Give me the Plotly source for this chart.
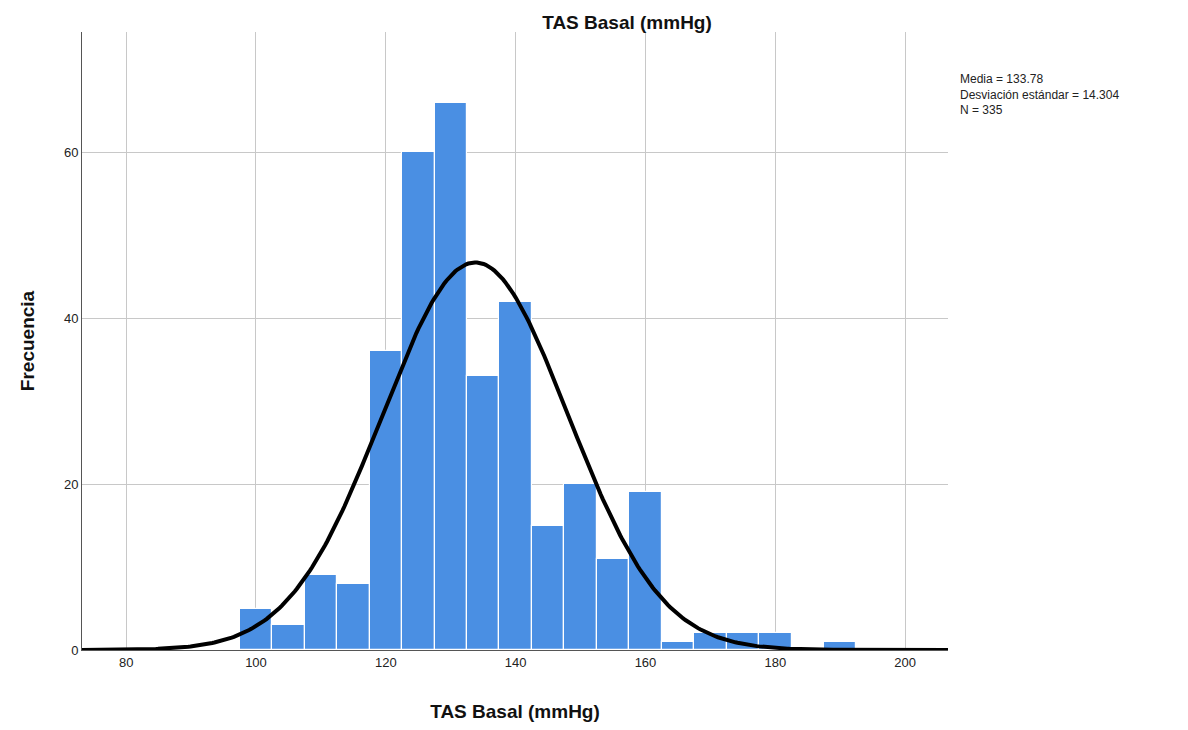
import numpy as np
import plotly.graph_objects as go

bin_centers = [100, 105, 110, 115, 120, 125, 130, 135, 140, 145, 150, 155, 160, 165, 170, 175, 180, 185, 190]
frequencies = [5, 3, 9, 8, 36, 60, 66, 33, 42, 15, 20, 11, 19, 1, 2, 2, 2, 0, 1]
bin_width = 5
mean_val = 133.78
sd_val = 14.304
n_val = 335
x_ticks = [80, 100, 120, 140, 160, 180, 200]
y_ticks = [0, 20, 40, 60]

xs = np.linspace(73.2, 206.6, 400)
ys = n_val * bin_width * np.exp(-0.5 * ((xs - mean_val) / sd_val) ** 2) / (sd_val * np.sqrt(2 * np.pi))

fig = go.Figure()
fig.add_trace(go.Bar(
    x=bin_centers, y=frequencies, width=bin_width,
    marker=dict(color="#4a8fe3", line=dict(color="white", width=1.2)),
    showlegend=False, hoverinfo="x+y"))
fig.add_trace(go.Scatter(
    x=xs, y=ys, mode="lines", line=dict(color="black", width=4),
    showlegend=False, hoverinfo="skip"))

font = "Liberation Sans, Arial, sans-serif"
W, H = 1180, 722
L, R, T, B = 74, 240, 24, 80
fig.update_layout(
    width=W, height=H,
    margin=dict(l=L, r=R, t=T, b=B),
    plot_bgcolor="white", paper_bgcolor="white",
    font=dict(family=font, size=13, color="#222"),
    bargap=0,
    title=dict(text="<b>TAS Basal (mmHg)</b>", x=619/W, xanchor="center",
               y=1 - 14/H, yanchor="middle", font=dict(size=19, color="#111")),
    xaxis=dict(range=[73.2, 206.6], tickvals=x_ticks, showgrid=True,
               gridcolor="#c8c8c8", gridwidth=1, showline=True, linecolor="#555",
               linewidth=1, ticks="", zeroline=False,
               title=dict(text="<b>TAS Basal (mmHg)</b>", font=dict(size=19, color="#111"), standoff=36),
               tickfont=dict(size=13, color="#222")),
    yaxis=dict(range=[0, 74.5], tickvals=y_ticks, showgrid=True,
               gridcolor="#c8c8c8", gridwidth=1, showline=True, linecolor="#555",
               linewidth=1, ticks="", zeroline=False,
               title=dict(text="<b>Frecuencia</b>", font=dict(size=19, color="#111"), standoff=24),
               tickfont=dict(size=13, color="#222")),
    annotations=[dict(
        text="Media = 133.78<br>Desviación estándar = 14.304<br>N = 335",
        xref="paper", yref="paper", x=(950 - L) / (W - L - R), y=1 - (70 - 32) / (H - T - B),
        xanchor="left", yanchor="top", align="left", showarrow=False,
        font=dict(size=12, color="#222"))]
)
fig.write_html("out.html")
